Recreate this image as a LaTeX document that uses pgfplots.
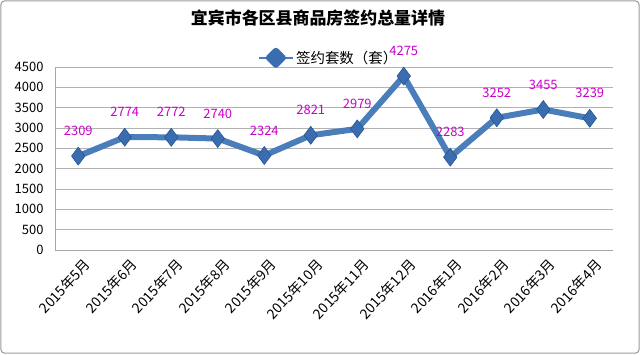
\documentclass[border=0pt]{standalone}
\usepackage{pgfplots}
\pgfplotsset{compat=1.18}
\usepackage{fontspec}
\setmainfont{Noto Sans CJK SC}
\definecolor{lineblue}{HTML}{4A7EBB}
\definecolor{mkblue}{HTML}{3A6DB0}
\definecolor{mkedge}{HTML}{2A5590}
\definecolor{lab}{HTML}{CC00CC}
\begin{document}
\begin{tikzpicture}[x=1bp,y=1bp]
\useasboundingbox (0,0) rectangle (640,354);
\draw[gray!80, line width=1bp, rounded corners=4bp] (0.8,0.8) rectangle (639.2,353.2);
\node[font=\fontsize{17}{20}\selectfont\bfseries] at (318,336) {宜宾市各区县商品房签约总量详情};
\begin{axis}[at={(55bp,104bp)}, anchor=south west, scale only axis,
  width=558bp, height=183bp,
  xmin=-0.5, xmax=11.5, ymin=0, ymax=4500,
  ytick={0,500,...,4500}, xtick={0,...,11},
  xticklabels={2015年5月,2015年6月,2015年7月,2015年8月,2015年9月,2015年10月,2015年11月,2015年12月,2016年1月,2016年2月,2016年3月,2016年4月},
  ymajorgrids, grid style={gray!60, line width=0.8bp},
  axis x line*=bottom, axis y line*=left,
  axis line style={gray!70, line width=0.8bp, -},
  major tick length=0pt,
  /pgf/number format/assume math mode=true,
  /pgf/number format/set thousands separator={},
  y tick label style={font=\fontsize{13}{15}\selectfont, xshift=-8bp},
  x tick label style={rotate=47, anchor=north east, font=\fontsize{14}{16}\selectfont, xshift=1bp, yshift=-5bp},
  nodes near coords,
  every node near coord/.append style={text=lab, anchor=center, yshift=25bp, font=\fontsize{13}{15}\selectfont},
  legend style={at={(0.49,1.0)}, anchor=south, draw=none, fill=none, font=\fontsize{14.5}{16}\selectfont, yshift=-3bp},
  legend image code/.code={
    \draw[lineblue, line width=2.5bp] (0bp,0bp) -- (34bp,0bp);
    \fill[mkblue] (17bp,7bp) -- (24bp,0bp) -- (17bp,-7bp) -- (10bp,0bp) -- cycle;
  },
]
\addplot[lineblue, line width=6bp, line join=round,
  mark=diamond*, mark size=9bp,
  mark options={fill=mkblue, draw=mkedge, line width=0.6bp}]
  coordinates {(0,2309) (1,2774) (2,2772) (3,2740) (4,2324) (5,2821) (6,2979) (7,4275) (8,2283) (9,3252) (10,3455) (11,3239)};
\addlegendentry{签约套数（套）}
\end{axis}
\end{tikzpicture}
\end{document}
